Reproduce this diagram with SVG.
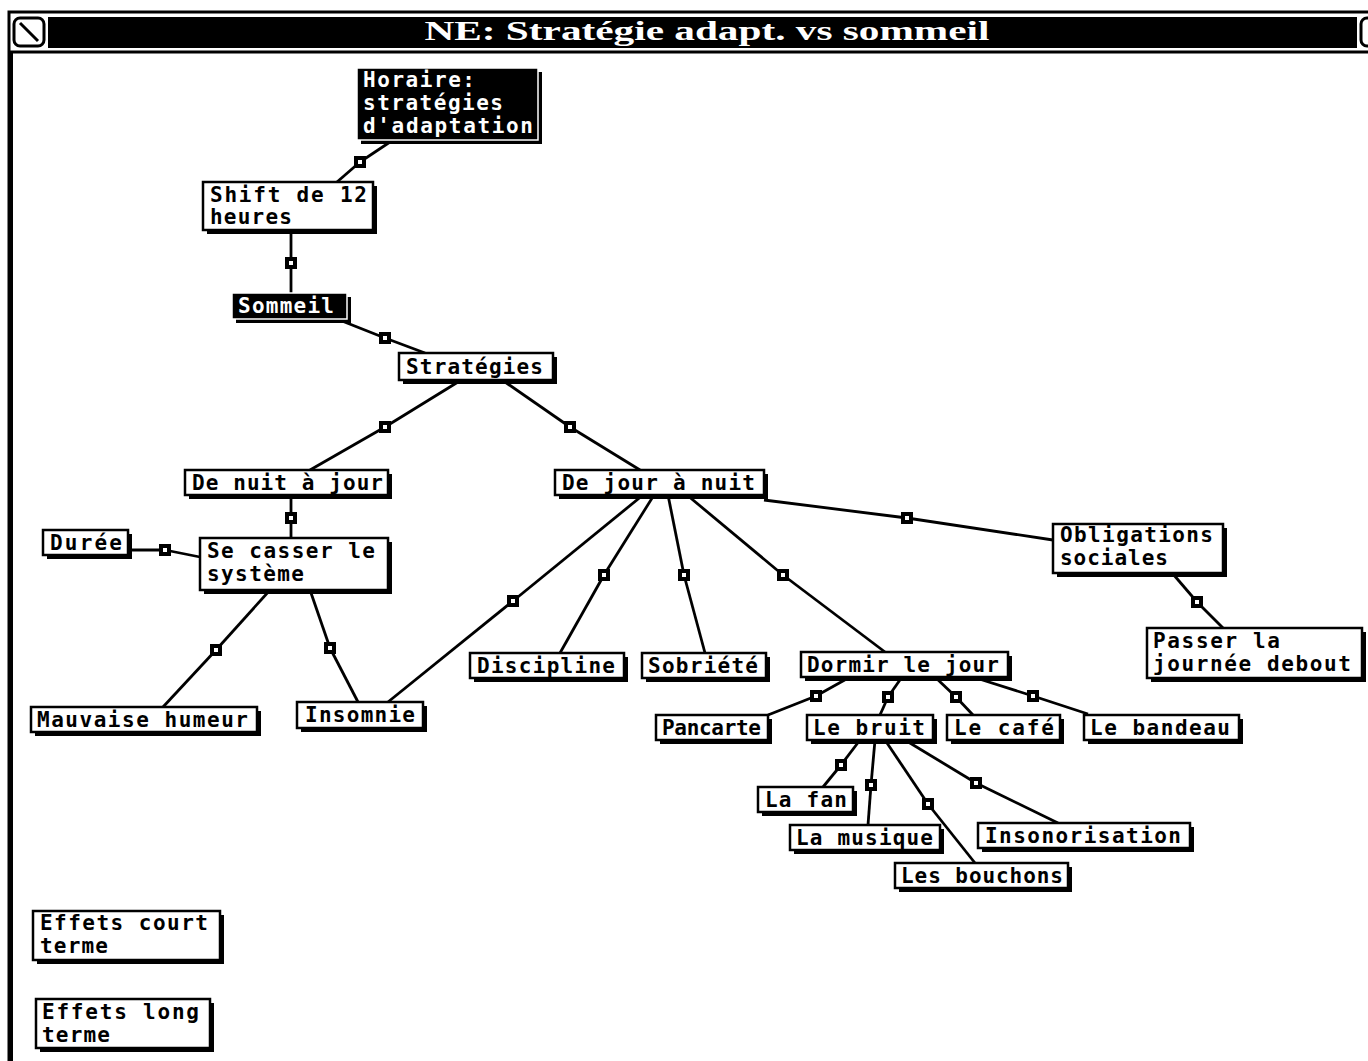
<svg xmlns="http://www.w3.org/2000/svg" xmlns:xlink="http://www.w3.org/1999/xlink" width="1368" height="1061" viewBox="0 0 1368 1061">
<style>
.sh{fill:#000}
.bx{fill:#fff;stroke:#000;stroke-width:2.5}
.inv{fill:#000;stroke:#fff;stroke-width:1.5}
.t{font-family:"DejaVu Sans Mono",monospace;font-weight:bold;font-size:21px;fill:#000}
.ti{font-family:"DejaVu Sans Mono",monospace;font-weight:bold;font-size:21px;fill:#fff}
.c line{stroke:#000;stroke-width:2.8;fill:none}
</style>
<defs>
<g id="m"><rect x="-6" y="-6" width="12" height="12" fill="#000"/><rect x="-2" y="-2" width="4" height="4" fill="#fff"/></g>
</defs>
<rect width="1368" height="1061" fill="#fff"/>
<g id="window">
<rect x="9" y="12" width="1370" height="1060" fill="none" stroke="#000" stroke-width="3"/>
<rect x="48" y="17" width="1309" height="31" fill="#000"/>
<rect x="14" y="18" width="30" height="28" rx="6" fill="#fff" stroke="#000" stroke-width="3"/>
<line x1="20" y1="23" x2="38" y2="41" stroke="#000" stroke-width="3"/>
<rect x="1361" y="18" width="30" height="28" rx="6" fill="#fff" stroke="#000" stroke-width="3"/>
<line x1="9" y1="52" x2="1368" y2="52" stroke="#000" stroke-width="3"/>
<line x1="11" y1="52" x2="11" y2="1061" stroke="#000" stroke-width="4"/>
<text x="707" y="40" text-anchor="middle" font-family="Liberation Serif, serif" font-weight="bold" font-size="27" fill="#fff" textLength="565" lengthAdjust="spacingAndGlyphs">NE: Stratégie adapt. vs sommeil</text>
</g>
<g class="c" id="connectors">
<line x1="390" y1="142" x2="360" y2="162"/><line x1="360" y1="162" x2="337" y2="182"/>
<line x1="291" y1="231" x2="291" y2="293"/>
<line x1="342" y1="321" x2="385" y2="338"/><line x1="385" y1="338" x2="425" y2="353"/>
<line x1="458" y1="382" x2="385" y2="427"/><line x1="385" y1="427" x2="310" y2="470"/>
<line x1="505" y1="382" x2="570" y2="427"/><line x1="570" y1="427" x2="640" y2="470"/>
<line x1="291" y1="495" x2="291" y2="538"/>
<line x1="128" y1="550" x2="165" y2="550"/><line x1="165" y1="550" x2="200" y2="557"/>
<line x1="270" y1="590" x2="216" y2="650"/><line x1="216" y1="650" x2="163" y2="707"/>
<line x1="310" y1="590" x2="330" y2="648"/><line x1="330" y1="648" x2="358" y2="702"/>
<line x1="643" y1="495" x2="513" y2="601"/><line x1="513" y1="601" x2="388" y2="702"/>
<line x1="654" y1="495" x2="604" y2="575"/><line x1="604" y1="575" x2="560" y2="653"/>
<line x1="668" y1="495" x2="684" y2="575"/><line x1="684" y1="575" x2="705" y2="653"/>
<line x1="687" y1="495" x2="783" y2="575"/><line x1="783" y1="575" x2="885" y2="652"/>
<line x1="764" y1="500" x2="907" y2="518"/><line x1="907" y1="518" x2="1053" y2="540"/>
<line x1="1173" y1="574" x2="1197" y2="602"/><line x1="1197" y1="602" x2="1223" y2="628"/>
<line x1="850" y1="677" x2="816" y2="696"/><line x1="816" y1="696" x2="768" y2="715"/>
<line x1="902" y1="677" x2="888" y2="697"/><line x1="888" y1="697" x2="880" y2="715"/>
<line x1="935" y1="677" x2="956" y2="697"/><line x1="956" y1="697" x2="973" y2="715"/>
<line x1="973" y1="677" x2="1033" y2="696"/><line x1="1033" y1="696" x2="1088" y2="714"/>
<line x1="860" y1="740" x2="841" y2="765"/><line x1="841" y1="765" x2="823" y2="787"/>
<line x1="875" y1="740" x2="871" y2="785"/><line x1="871" y1="785" x2="868" y2="825"/>
<line x1="885" y1="740" x2="928" y2="804"/><line x1="928" y1="804" x2="975" y2="863"/>
<line x1="905" y1="740" x2="976" y2="783"/><line x1="976" y1="783" x2="1058" y2="823"/>
<use xlink:href="#m" x="360" y="162"/>
<use xlink:href="#m" x="291" y="263"/>
<use xlink:href="#m" x="385" y="338"/>
<use xlink:href="#m" x="385" y="427"/>
<use xlink:href="#m" x="570" y="427"/>
<use xlink:href="#m" x="291" y="518"/>
<use xlink:href="#m" x="165" y="550"/>
<use xlink:href="#m" x="216" y="650"/>
<use xlink:href="#m" x="330" y="648"/>
<use xlink:href="#m" x="513" y="601"/>
<use xlink:href="#m" x="604" y="575"/>
<use xlink:href="#m" x="684" y="575"/>
<use xlink:href="#m" x="783" y="575"/>
<use xlink:href="#m" x="907" y="518"/>
<use xlink:href="#m" x="1197" y="602"/>
<use xlink:href="#m" x="816" y="696"/>
<use xlink:href="#m" x="888" y="697"/>
<use xlink:href="#m" x="956" y="697"/>
<use xlink:href="#m" x="1033" y="696"/>
<use xlink:href="#m" x="841" y="765"/>
<use xlink:href="#m" x="871" y="785"/>
<use xlink:href="#m" x="928" y="804"/>
<use xlink:href="#m" x="976" y="783"/>
</g>
<g id="n-horaire"><rect class="sh" x="361" y="72" width="181" height="72"/><rect class="inv" x="357" y="68" width="181" height="72"/>
<text class="ti" x="363" y="87" textLength="112" lengthAdjust="spacing">Horaire:</text>
<text class="ti" x="363" y="110" textLength="140" lengthAdjust="spacing">stratégies</text>
<text class="ti" x="363" y="133" textLength="170" lengthAdjust="spacing">d'adaptation</text></g>
<g id="n-shift"><rect class="sh" x="207" y="186" width="170" height="48"/><rect class="bx" x="203" y="182" width="170" height="48"/>
<text class="t" x="210" y="202" textLength="157" lengthAdjust="spacing">Shift de 12</text>
<text class="t" x="210" y="224" textLength="82" lengthAdjust="spacing">heures</text></g>
<g id="n-sommeil"><rect class="sh" x="236" y="297" width="115" height="26"/><rect class="inv" x="232" y="293" width="115" height="26"/>
<text class="ti" x="238" y="313" textLength="96" lengthAdjust="spacing">Sommeil</text></g>
<g id="n-strategies"><rect class="sh" x="403" y="357" width="154" height="27"/><rect class="bx" x="399" y="353" width="154" height="27"/>
<text class="t" x="406" y="374" textLength="137" lengthAdjust="spacing">Stratégies</text></g>
<g id="n-nuitjour"><rect class="sh" x="189" y="474" width="203" height="25"/><rect class="bx" x="185" y="470" width="203" height="25"/>
<text class="t" x="192" y="490" textLength="191" lengthAdjust="spacing">De nuit à jour</text></g>
<g id="n-journuit"><rect class="sh" x="559" y="474" width="209" height="25"/><rect class="bx" x="555" y="470" width="209" height="25"/>
<text class="t" x="562" y="490" textLength="193" lengthAdjust="spacing">De jour à nuit</text></g>
<g id="n-duree"><rect class="sh" x="47" y="534" width="85" height="25"/><rect class="bx" x="43" y="530" width="85" height="25"/>
<text class="t" x="50" y="550" textLength="72" lengthAdjust="spacing">Durée</text></g>
<g id="n-casser"><rect class="sh" x="204" y="542" width="188" height="52"/><rect class="bx" x="200" y="538" width="188" height="52"/>
<text class="t" x="207" y="558" textLength="168" lengthAdjust="spacing">Se casser le</text>
<text class="t" x="207" y="581" textLength="97" lengthAdjust="spacing">système</text></g>
<g id="n-obligations"><rect class="sh" x="1057" y="528" width="170" height="49"/><rect class="bx" x="1053" y="524" width="170" height="49"/>
<text class="t" x="1060" y="542" textLength="153" lengthAdjust="spacing">Obligations</text>
<text class="t" x="1060" y="565" textLength="108" lengthAdjust="spacing">sociales</text></g>
<g id="n-passer"><rect class="sh" x="1151" y="632" width="215" height="50"/><rect class="bx" x="1147" y="628" width="215" height="50"/>
<text class="t" x="1153" y="648" textLength="127" lengthAdjust="spacing">Passer la</text>
<text class="t" x="1153" y="671" textLength="198" lengthAdjust="spacing">journée debout</text></g>
<g id="n-mauvaise"><rect class="sh" x="35" y="711" width="226" height="25"/><rect class="bx" x="31" y="707" width="226" height="25"/>
<text class="t" x="37" y="727" textLength="211" lengthAdjust="spacing">Mauvaise humeur</text></g>
<g id="n-insomnie"><rect class="sh" x="301" y="706" width="126" height="26"/><rect class="bx" x="297" y="702" width="126" height="26"/>
<text class="t" x="305" y="722" textLength="110" lengthAdjust="spacing">Insomnie</text></g>
<g id="n-discipline"><rect class="sh" x="474" y="657" width="154" height="25"/><rect class="bx" x="470" y="653" width="154" height="25"/>
<text class="t" x="477" y="673" textLength="138" lengthAdjust="spacing">Discipline</text></g>
<g id="n-sobriete"><rect class="sh" x="646" y="657" width="124" height="25"/><rect class="bx" x="642" y="653" width="124" height="25"/>
<text class="t" x="648" y="673" textLength="110" lengthAdjust="spacing">Sobriété</text></g>
<g id="n-dormir"><rect class="sh" x="805" y="656" width="207" height="25"/><rect class="bx" x="801" y="652" width="207" height="25"/>
<text class="t" x="807" y="672" textLength="192" lengthAdjust="spacing">Dormir le jour</text></g>
<g id="n-pancarte"><rect class="sh" x="660" y="719" width="112" height="25"/><rect class="bx" x="656" y="715" width="112" height="25"/>
<text class="t" x="662" y="735" textLength="99" lengthAdjust="spacing">Pancarte</text></g>
<g id="n-bruit"><rect class="sh" x="811" y="719" width="126" height="25"/><rect class="bx" x="807" y="715" width="126" height="25"/>
<text class="t" x="813" y="735" textLength="112" lengthAdjust="spacing">Le bruit</text></g>
<g id="n-cafe"><rect class="sh" x="951" y="719" width="113" height="25"/><rect class="bx" x="947" y="715" width="113" height="25"/>
<text class="t" x="954" y="735" textLength="100" lengthAdjust="spacing">Le café</text></g>
<g id="n-bandeau"><rect class="sh" x="1088" y="719" width="155" height="25"/><rect class="bx" x="1084" y="715" width="155" height="25"/>
<text class="t" x="1090" y="735" textLength="140" lengthAdjust="spacing">Le bandeau</text></g>
<g id="n-fan"><rect class="sh" x="762" y="791" width="95" height="25"/><rect class="bx" x="758" y="787" width="95" height="25"/>
<text class="t" x="765" y="807" textLength="82" lengthAdjust="spacing">La fan</text></g>
<g id="n-musique"><rect class="sh" x="794" y="829" width="150" height="25"/><rect class="bx" x="790" y="825" width="150" height="25"/>
<text class="t" x="796" y="845" textLength="137" lengthAdjust="spacing">La musique</text></g>
<g id="n-bouchons"><rect class="sh" x="899" y="867" width="173" height="25"/><rect class="bx" x="895" y="863" width="173" height="25"/>
<text class="t" x="901" y="883" textLength="162" lengthAdjust="spacing">Les bouchons</text></g>
<g id="n-insonorisation"><rect class="sh" x="982" y="827" width="212" height="25"/><rect class="bx" x="978" y="823" width="212" height="25"/>
<text class="t" x="985" y="843" textLength="196" lengthAdjust="spacing">Insonorisation</text></g>
<g id="n-court"><rect class="sh" x="37" y="915" width="187" height="49"/><rect class="bx" x="33" y="911" width="187" height="49"/>
<text class="t" x="40" y="930" textLength="168" lengthAdjust="spacing">Effets court</text>
<text class="t" x="40" y="953" textLength="68" lengthAdjust="spacing">terme</text></g>
<g id="n-long"><rect class="sh" x="40" y="1003" width="174" height="49"/><rect class="bx" x="36" y="999" width="174" height="49"/>
<text class="t" x="42" y="1019" textLength="157" lengthAdjust="spacing">Effets long</text>
<text class="t" x="42" y="1042" textLength="68" lengthAdjust="spacing">terme</text></g>
</svg>
